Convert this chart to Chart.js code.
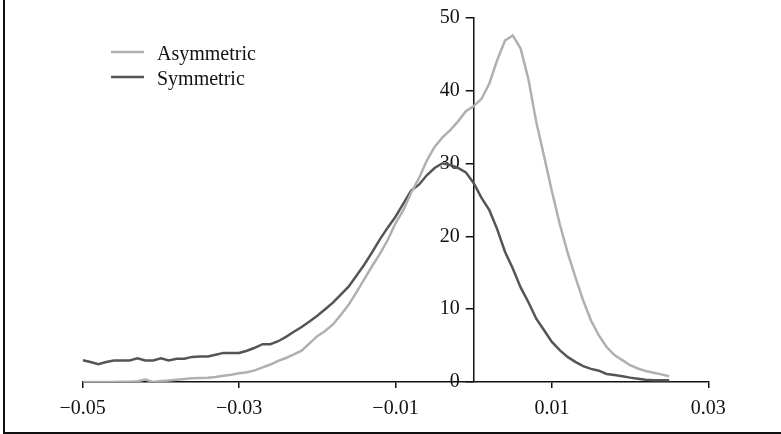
<!DOCTYPE html>
<html>
<head>
<meta charset="utf-8">
<script src="https://cdn.jsdelivr.net/npm/chart.js@4.4.1/dist/chart.umd.min.js"></script>
<style>
  html, body { margin: 0; padding: 0; background: #ffffff; }
  #wrap { width: 781px; height: 434px; position: relative; }
</style>
</head>
<body>
<div id="wrap"><canvas id="c" width="781" height="434"></canvas></div>
<script>
// ---- data ----
const xValues = [
  -0.050, -0.049, -0.048, -0.047, -0.046, -0.045, -0.044, -0.043, -0.042, -0.041,
  -0.040, -0.039, -0.038, -0.037, -0.036, -0.035, -0.034, -0.033, -0.032, -0.031,
  -0.030, -0.029, -0.028, -0.027, -0.026, -0.025, -0.024, -0.023, -0.022, -0.021,
  -0.020, -0.019, -0.018, -0.017, -0.016, -0.015, -0.014, -0.013, -0.012, -0.011,
  -0.010, -0.009, -0.008, -0.007, -0.006, -0.005, -0.004, -0.003, -0.002, -0.001,
   0.000,  0.001,  0.002,  0.003,  0.004,  0.005,  0.006,  0.007,  0.008,  0.009,
   0.010,  0.011,  0.012,  0.013,  0.014,  0.015,  0.016,  0.017,  0.018,  0.019,
   0.020,  0.021,  0.022,  0.023,  0.024,  0.025
];
const asymmetric = [
  0.0, 0.0, 0.0, 0.0, 0.0, 0.05, 0.05, 0.1, 0.35, 0.0,
  0.15, 0.2, 0.3, 0.4, 0.5, 0.55, 0.6, 0.7, 0.85, 1.0,
  1.2, 1.35, 1.6, 2.0, 2.4, 2.9, 3.3, 3.8, 4.3, 5.3,
  6.3, 7.0, 7.9, 9.2, 10.6, 12.3, 14.1, 15.9, 17.6, 19.5,
  21.8, 23.6, 26.0, 28.0, 30.4, 32.3, 33.6, 34.6, 35.8, 37.2,
  37.9, 38.9, 41.0, 44.2, 46.9, 47.6, 45.8, 41.6, 35.7, 31.0,
  26.2, 21.7, 17.8, 14.4, 11.2, 8.45, 6.4, 4.8, 3.7, 3.0,
  2.3, 1.86, 1.5, 1.27, 1.05, 0.8
];
const symmetric = [
  3.0, 2.75, 2.45, 2.75, 2.95, 2.95, 2.95, 3.25, 2.95, 2.95,
  3.25, 2.95, 3.2, 3.2, 3.45, 3.5, 3.5, 3.75, 4.0, 4.0,
  4.0, 4.3, 4.7, 5.2, 5.2, 5.6, 6.2, 6.9, 7.55, 8.3,
  9.1, 10.0, 10.9, 12.0, 13.1, 14.6, 16.1, 17.8, 19.6, 21.2,
  22.7, 24.5, 26.3, 27.1, 28.4, 29.4, 30.05, 29.8, 29.4, 28.8,
  27.3, 25.3, 23.6, 21.0, 17.9, 15.6, 13.0, 10.95, 8.7, 7.1,
  5.5, 4.37, 3.45, 2.77, 2.18, 1.8, 1.55, 1.1, 0.95, 0.8,
  0.6, 0.45, 0.3, 0.25, 0.25, 0.25
];
const seriesNames = ['Asymmetric', 'Symmetric'];
const xTickValues = [-0.05, -0.03, -0.01, 0.01, 0.03];
const xTickLabels = ['\u22120.05', '\u22120.03', '\u22120.01', '0.01', '0.03'];
const yTickValues = [0, 10, 20, 30, 40, 50];
const yTickLabels = ['0', '10', '20', '30', '40', '50'];
const yAxisCrossAt = 0;

const FONT = { family: '"Liberation Serif", "Times New Roman", serif', size: 20 };
const LIGHT = '#b0b0b0';
const DARK = '#555555';

const toPoints = (ys) => xValues.map((x, i) => ({ x: x, y: ys[i] }));

// move the (zero-width in layout) left y axis so it crosses the x axis at x = 0
const crossAxis = {
  id: 'crossAxis',
  afterLayout(chart) {
    const y = chart.scales.y;
    const px = chart.scales.x.getPixelForValue(yAxisCrossAt);
    y.left = px - 80;
    y.right = px;
    y.width = 80;
  }
};

// legend + frame drawn from dataset labels/colours
const decor = {
  id: 'decor',
  afterDraw(chart) {
    const ctx = chart.ctx;
    ctx.save();
    ctx.strokeStyle = '#111';
    ctx.lineWidth = 2;
    ctx.beginPath();
    ctx.moveTo(4, 0);
    ctx.lineTo(4, 433);
    ctx.lineTo(781, 433);
    ctx.stroke();
    ctx.font = FONT.size + 'px ' + FONT.family;
    ctx.textBaseline = 'alphabetic';
    chart.data.datasets.forEach((ds, i) => {
      const y = 52 + i * 25;
      ctx.strokeStyle = ds.borderColor;
      ctx.lineWidth = 2.6;
      ctx.beginPath();
      ctx.moveTo(111, y);
      ctx.lineTo(144, y);
      ctx.stroke();
      ctx.fillStyle = '#111';
      ctx.fillText(ds.label, 157, y + 7.5);
    });
    ctx.restore();
  }
};

new Chart(document.getElementById('c'), {
  type: 'line',
  data: {
    datasets: [
      { label: seriesNames[0], data: toPoints(asymmetric), borderColor: LIGHT, borderWidth: 2.5, pointRadius: 0, tension: 0, fill: false },
      { label: seriesNames[1], data: toPoints(symmetric), borderColor: DARK, borderWidth: 2.5, pointRadius: 0, tension: 0, fill: false }
    ]
  },
  options: {
    responsive: false,
    animation: false,
    events: [],
    layout: { padding: { left: 82.7, right: 72.7, top: 15.7, bottom: 0 } },
    plugins: { legend: { display: false }, tooltip: { enabled: false } },
    scales: {
      x: {
        type: 'linear',
        position: 'bottom',
        min: -0.05,
        max: 0.03,
        afterBuildTicks(scale) { scale.ticks = xTickValues.map(v => ({ value: v })); },
        afterFit(scale) { scale.height = 52; },
        grid: { display: true, drawOnChartArea: false, drawTicks: true, tickLength: 6, color: '#111', lineWidth: 1.5 },
        border: { display: true, color: '#111', width: 1.5 },
        ticks: {
          font: FONT, color: '#111', padding: 9, maxRotation: 0, autoSkip: false,
          callback(v) { const i = xTickValues.findIndex(t => Math.abs(t - v) < 1e-9); return i >= 0 ? xTickLabels[i] : ''; }
        }
      },
      y: {
        type: 'linear',
        position: 'left',
        min: 0,
        max: 50,
        afterBuildTicks(scale) { scale.ticks = yTickValues.map(v => ({ value: v })); },
        afterFit(scale) { scale.width = 0; },
        grid: { display: true, drawOnChartArea: false, drawTicks: true, tickLength: 8, color: '#111', lineWidth: 1.5 },
        border: { display: true, color: '#111', width: 1.5 },
        ticks: {
          font: FONT, color: '#111', padding: 6,
          callback(v) { const i = yTickValues.indexOf(v); return i >= 0 ? yTickLabels[i] : ''; }
        }
      }
    }
  },
  plugins: [crossAxis, decor]
});
</script>
</body>
</html>
